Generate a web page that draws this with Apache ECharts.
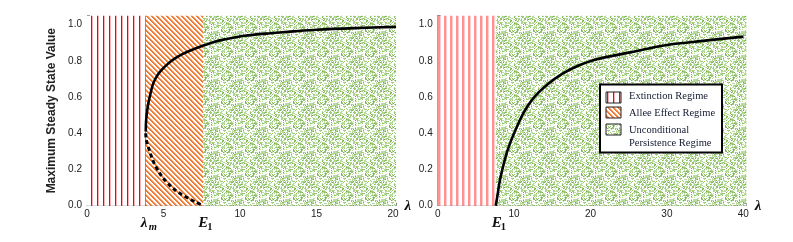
<!DOCTYPE html>
<html><head><meta charset="utf-8">
<script src="https://cdn.jsdelivr.net/npm/echarts@6/dist/echarts.min.js"></script>
<style>html,body{margin:0;padding:0;background:#fff}#c{width:793px;height:242px}</style>
</head><body><div id="c"></div>
<script>
// ---- data ----
const lambdaM = 3.84;
const E1 = 7.6;
const leftXMax = 20.2, rightXMax = 40.4, yMax = 1.05;
const leftUpperX = [3.84, 3.86, 3.9, 3.95, 4.01, 4.15, 4.33, 4.6, 4.88, 5.3, 5.75, 6.3, 6.84, 7.6, 8.3, 9.0, 10.3, 12, 13.5, 15, 17.5, 20.2];
const leftUpperY = [0.41, 0.465, 0.503, 0.535, 0.566, 0.62, 0.676, 0.72, 0.75, 0.785, 0.814, 0.84, 0.86, 0.885, 0.905, 0.919, 0.939, 0.953, 0.963, 0.972, 0.981, 0.988];
const leftLowerX = [3.84, 3.86, 3.95, 4.07, 4.25, 4.44, 4.7, 4.99, 5.35, 5.75, 6.2, 6.62, 7.1, 7.6];
const leftLowerY = [0.40, 0.373, 0.337, 0.308, 0.262, 0.225, 0.186, 0.151, 0.118, 0.087, 0.061, 0.041, 0.02, 0.0];
const rightX = [7.6, 7.8, 8.15, 9.03, 9.9, 11.2, 12.5, 14.27, 16.4, 18.6, 20.8, 25.2, 30, 35, 40];
const rightY = [0, 0.05, 0.142, 0.29, 0.39, 0.51, 0.593, 0.667, 0.731, 0.777, 0.809, 0.847, 0.888, 0.912, 0.934];
const legendNames = ['Extinction Regime', 'Allee Effect Regime', 'Unconditional', 'Persistence Regime'];
const yTitle = 'Maximum Steady State Value';

// ---- textures ----
function mk(w, h, fn) {
  const c = document.createElement('canvas'); c.width = w; c.height = h;
  const ctx = c.getContext('2d');
  const img = ctx.createImageData(w, h);
  for (let y = 0; y < h; y++) for (let x = 0; x < w; x++) {
    const col = fn(x, y); const i = (y * w + x) * 4;
    img.data[i] = col[0]; img.data[i+1] = col[1]; img.data[i+2] = col[2]; img.data[i+3] = 255;
  }
  ctx.putImageData(img, 0, 0);
  return c;
}
const W = [255,255,255];
const redLines = mk(6, 1, x => x === 1 ? [240, 0, 20] : (x === 2 ? [255, 175, 180] : W));
const pinkLines = mk(6, 1, x => x === 0 || x === 1 ? [255, 145, 145] : (x === 2 ? [255, 205, 205] : W));
const orange = mk(5, 5, (x, y) => { const d = ((x - y) % 5 + 5) % 5; return (d === 0 || d === 1) ? [240, 125, 55] : d === 2 ? [250, 195, 160] : W; });
function hsh(x, y) { let n = Math.imul(x, 374761393) + Math.imul(y, 668265263); n = Math.imul(n ^ (n >>> 13), 1274126177); n = n ^ (n >>> 16); return (n >>> 0) / 4294967295; }
const green = mk(24, 24, (x, y) => { const r = hsh(x, y); return r < 0.47 ? W : r < 0.77 ? [186, 220, 158] : r < 0.94 ? [150, 200, 112] : [118, 174, 80]; });
const pat = c => ({ image: c, repeat: 'repeat' });

const gridTop = 15.65, gridH = 190.05;
const axisGray = '#808080';
function xAxisCfg(gi, max, interval) {
  return {
    gridIndex: gi, type: 'value', min: 0, max: max, interval: interval,
    axisLine: { show: true, lineStyle: { color: axisGray } },
    axisTick: { show: true, inside: true, length: 3, lineStyle: { color: axisGray } },
    minorTick: { show: true, splitNumber: 5, length: 2, lineStyle: { color: axisGray } },
    splitLine: { show: false },
    axisLabel: { margin: 4, fontSize: 10, color: '#222', fontFamily: 'Liberation Sans',
      formatter: v => (Math.abs(v / interval - Math.round(v / interval)) < 1e-6 ? String(v) : '') },
    name: 'λ', nameLocation: 'end', nameGap: 7,
    nameTextStyle: { fontSize: 15, fontWeight: 'bold', fontStyle: 'italic', fontFamily: 'Liberation Serif', color: '#111', verticalAlign: 'middle' }
  };
}
function yAxisCfg(gi, withName) {
  const c = {
    gridIndex: gi, type: 'value', min: 0, max: yMax, interval: 0.2,
    axisLine: { show: true, lineStyle: { color: axisGray } },
    axisTick: { show: true, inside: true, length: 3, lineStyle: { color: axisGray } },
    minorTick: { show: true, splitNumber: 4, length: 2, lineStyle: { color: axisGray } },
    splitLine: { show: false },
    axisLabel: { margin: 5, fontSize: 10, color: '#222', fontFamily: 'Liberation Sans',
      formatter: v => (Math.abs(v * 5 - Math.round(v * 5)) < 1e-6 ? v.toFixed(1) : '') }
  };
  if (withName) {
    c.name = yTitle; c.nameLocation = 'middle'; c.nameGap = 29;
    c.nameTextStyle = { fontSize: 12, fontWeight: 'bold', color: '#222', fontFamily: 'Liberation Sans' };
  }
  return c;
}
const zip = (a, b) => a.map((v, i) => [v, b[i]]);
const area = c => ({ color: pat(c), opacity: 1 });
const chart = echarts.init(document.getElementById('c'), null, { renderer: 'canvas' });
chart.setOption({
  animation: false,
  grid: [
    { left: 87, top: gridTop, width: leftXMax * 15.3, height: gridH },
    { left: 437.7, top: gridTop, width: rightXMax * 7.64, height: gridH }
  ],
  xAxis: [xAxisCfg(0, leftXMax, 5), xAxisCfg(1, rightXMax, 10)],
  yAxis: [yAxisCfg(0, true), yAxisCfg(1, false)],
  series: [
    { type: 'line', xAxisIndex: 0, yAxisIndex: 0, data: zip(leftUpperX, leftUpperY), showSymbol: false, symbol: 'none',
      smooth: 0.3, lineStyle: { color: '#000', width: 2.6 }, z: 5,
      markArea: { silent: true, data: [
        [{ xAxis: 0, itemStyle: area(redLines) }, { xAxis: lambdaM }],
        [{ xAxis: lambdaM, itemStyle: area(orange) }, { xAxis: E1 }],
        [{ xAxis: E1, itemStyle: area(green) }, { xAxis: leftXMax }]
      ] } },
    { type: 'line', xAxisIndex: 0, yAxisIndex: 0, data: zip(leftLowerX, leftLowerY), showSymbol: false, symbol: 'none',
      smooth: 0.3, lineStyle: { color: '#000', width: 3, type: [4, 3] }, z: 5 },
    { type: 'line', xAxisIndex: 1, yAxisIndex: 1, data: zip(rightX, rightY), showSymbol: false, symbol: 'none',
      smooth: 0.3, lineStyle: { color: '#000', width: 2.6 }, z: 5,
      markArea: { silent: true, data: [
        [{ xAxis: 0, itemStyle: area(pinkLines) }, { xAxis: E1 }],
        [{ xAxis: E1, itemStyle: area(green) }, { xAxis: rightXMax }]
      ] } }
  ]
});

const p1 = chart.convertToPixel({ gridIndex: 0 }, [lambdaM, 0]);
const p2 = chart.convertToPixel({ gridIndex: 0 }, [E1, 0]);
const p3 = chart.convertToPixel({ gridIndex: 1 }, [E1, 0]);
const mainF = { fontSize: 15, fontWeight: 'bold', fontStyle: 'italic', fontFamily: 'Liberation Serif', fill: '#111' };
const subF = { fontSize: 10.5, fontWeight: 'bold', fontStyle: 'italic', fontFamily: 'Liberation Serif', fill: '#111' };
function sym(px, main, sub, dx, subDx, subSty) {
  return [
    { type: 'text', x: px[0] + dx, y: 223, style: Object.assign({ text: main, verticalAlign: 'middle', align: 'left' }, mainF), z: 100 },
    { type: 'text', x: px[0] + dx + subDx, y: 227, style: Object.assign({ text: sub, verticalAlign: 'middle', align: 'left' }, subSty), z: 100 }
  ];
}
const legX = 600, legY = 84.5;
const legTxt = { fontSize: 10.5, fontFamily: 'Liberation Serif', fill: '#141a30', verticalAlign: 'middle', align: 'left' };
chart.setOption({
  graphic: [].concat(
    sym(p1, 'λ', 'm', -5, 8, subF),
    sym(p2, 'E', '1', -5, 9, Object.assign({}, subF, { fontStyle: 'normal' })),
    sym(p3, 'E', '1', -4, 9, Object.assign({}, subF, { fontStyle: 'normal' })),
    [
      { type: 'rect', shape: { x: legX, y: legY, width: 122, height: 68 }, style: { fill: '#fff', stroke: '#000', lineWidth: 2 }, z: 100 },
      { type: 'rect', shape: { x: 606, y: 92, width: 15, height: 11 }, style: { fill: pat(redLines), stroke: '#222', lineWidth: 1 }, z: 101 },
      { type: 'rect', shape: { x: 606, y: 107, width: 15, height: 11 }, style: { fill: pat(orange), stroke: '#222', lineWidth: 1 }, z: 101 },
      { type: 'rect', shape: { x: 606, y: 124, width: 15, height: 11 }, style: { fill: pat(green), stroke: '#222', lineWidth: 1 }, z: 101 },
      { type: 'text', x: 629, y: 96, style: Object.assign({ text: legendNames[0] }, legTxt), z: 101 },
      { type: 'text', x: 629, y: 113, style: Object.assign({ text: legendNames[1] }, legTxt), z: 101 },
      { type: 'text', x: 629, y: 130, style: Object.assign({ text: legendNames[2] }, legTxt), z: 101 },
      { type: 'text', x: 629, y: 143, style: Object.assign({ text: legendNames[3] }, legTxt), z: 101 }
    ]
  )
});
</script></body></html>
